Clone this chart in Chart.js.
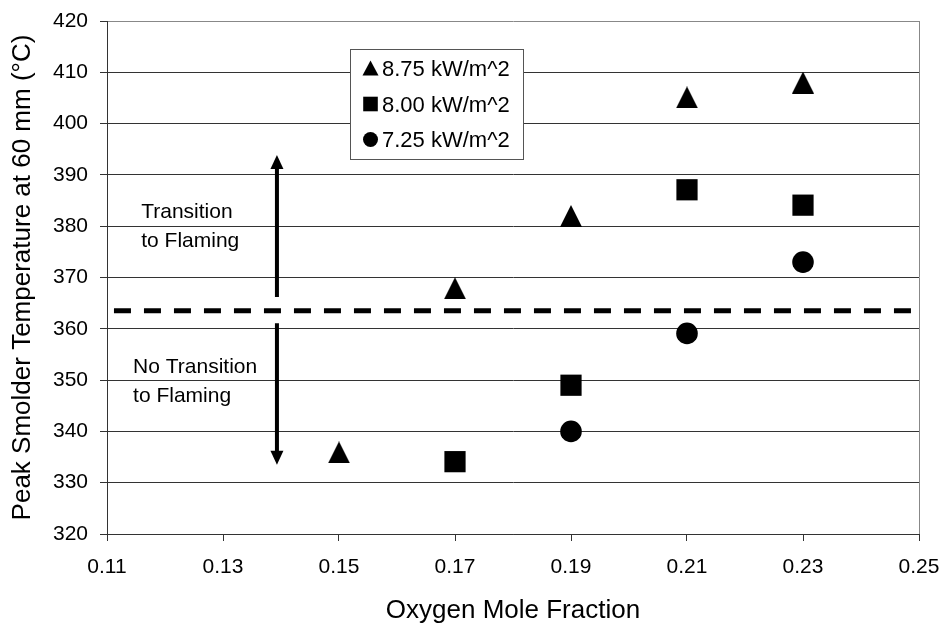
<!DOCTYPE html>
<html>
<head>
<meta charset="utf-8">
<script src="https://cdn.jsdelivr.net/npm/chart.js@4"></script>
<style>
  html, body { margin: 0; padding: 0; background: #fff; }
</style>
</head>
<body>
<canvas id="myChart" width="942" height="626"></canvas>
<script>
// data
const seriesLabels = ['8.75 kW/m^2', '8.00 kW/m^2', '7.25 kW/m^2'];
const oxygen875 = [0.15, 0.17, 0.19, 0.21, 0.23];
const temp875 = [335.9, 367.9, 382.0, 405.1, 408.0];
const oxygen800 = [0.17, 0.19, 0.21, 0.23];
const temp800 = [334.1, 349.0, 387.1, 384.1];
const oxygen725 = [0.19, 0.21, 0.23];
const temp725 = [340.0, 359.1, 373.0];

const xTicks = [0.11, 0.13, 0.15, 0.17, 0.19, 0.21, 0.23, 0.25];
const yTicks = [320, 330, 340, 350, 360, 370, 380, 390, 400, 410, 420];

// threshold line and annotations (data units)
const thresholdTemp = 363.5;
const thresholdRange = [0.1112, 0.2493];
const arrowX = 0.1393;
const arrowUp = [366.2, 393.9];
const arrowDown = [361.1, 333.5];
const notes = [
  { lines: ['Transition', 'to Flaming'], x: 0.1159, y: 381.6 },
  { lines: ['No Transition', 'to Flaming'], x: 0.1145, y: 351.4 }
];

const FONT = "'Liberation Sans', Arial, sans-serif";

function triangleMarker(w, h) {
  const c = document.createElement('canvas');
  c.width = w;
  c.height = h;
  const g = c.getContext('2d');
  g.fillStyle = '#000';
  g.beginPath();
  g.moveTo(w / 2, 0);
  g.lineTo(w, h);
  g.lineTo(0, h);
  g.closePath();
  g.fill();
  return c;
}

const toPoints = (xs, ys) => xs.map((x, i) => ({ x: x, y: ys[i] }));

const overlay = {
  id: 'overlay',
  afterDatasetsDraw(chart) {
    const ctx = chart.ctx;
    const xs = chart.scales.x;
    const ys = chart.scales.y;
    const area = chart.chartArea;
    ctx.save();

    // right border of plot area
    ctx.strokeStyle = '#888';
    ctx.lineWidth = 1;
    ctx.beginPath();
    ctx.moveTo(Math.round(area.right) + 0.5, area.top);
    ctx.lineTo(Math.round(area.right) + 0.5, area.bottom);
    ctx.stroke();

    // arrows
    const ax = xs.getPixelForValue(arrowX);
    function arrow(from, to) {
      const y0 = ys.getPixelForValue(from);
      const y1 = ys.getPixelForValue(to);
      const dir = y1 < y0 ? -1 : 1;
      ctx.strokeStyle = '#000';
      ctx.fillStyle = '#000';
      ctx.lineWidth = 4;
      ctx.beginPath();
      ctx.moveTo(ax, y0);
      ctx.lineTo(ax, y1 - dir * 12);
      ctx.stroke();
      ctx.beginPath();
      ctx.moveTo(ax, y1);
      ctx.lineTo(ax - 6.5, y1 - dir * 14);
      ctx.lineTo(ax + 6.5, y1 - dir * 14);
      ctx.closePath();
      ctx.fill();
    }
    arrow(arrowUp[0], arrowUp[1]);
    arrow(arrowDown[0], arrowDown[1]);

    // notes
    ctx.fillStyle = '#000';
    ctx.font = '21px ' + FONT;
    ctx.textAlign = 'left';
    ctx.textBaseline = 'alphabetic';
    notes.forEach(n => {
      const px = xs.getPixelForValue(n.x);
      const py = ys.getPixelForValue(n.y);
      n.lines.forEach((line, i) => ctx.fillText(line, px, py + i * 29));
    });

    // legend box
    const box = { x: 350.5, y: 49.5, w: 173, h: 110 };
    ctx.fillStyle = '#fff';
    ctx.fillRect(box.x, box.y, box.w, box.h);
    ctx.strokeStyle = '#555';
    ctx.lineWidth = 1;
    ctx.strokeRect(box.x, box.y, box.w, box.h);
    const rows = [68, 104, 139.5];
    ctx.fillStyle = '#000';
    ctx.font = '22px ' + FONT;
    chart.data.datasets.filter(d => d.label).forEach((d, i) => {
      const cy = rows[i];
      const cx = 370.5;
      ctx.beginPath();
      if (d.markerName === 'triangle') {
        ctx.moveTo(cx, cy - 7.5);
        ctx.lineTo(cx + 8, cy + 7.5);
        ctx.lineTo(cx - 8, cy + 7.5);
        ctx.closePath();
      } else if (d.markerName === 'rect') {
        ctx.rect(cx - 7.3, cy - 7.3, 14.6, 14.6);
      } else {
        ctx.arc(cx, cy, 7.5, 0, Math.PI * 2);
      }
      ctx.fill();
      ctx.fillText(d.label, 382, cy + 7.8);
    });

    ctx.restore();
  }
};

new Chart(
  document.getElementById('myChart'),
  {
    type: 'scatter',
    data: {
      datasets: [
        {
          label: seriesLabels[0],
          markerName: 'triangle',
          data: toPoints(oxygen875, temp875),
          pointStyle: triangleMarker(22, 22),
          pointRadius: 11,
          backgroundColor: '#000',
          borderWidth: 0
        },
        {
          label: seriesLabels[1],
          markerName: 'rect',
          data: toPoints(oxygen800, temp800),
          pointStyle: 'rect',
          pointRadius: 15,
          backgroundColor: '#000',
          borderWidth: 0
        },
        {
          label: seriesLabels[2],
          markerName: 'circle',
          data: toPoints(oxygen725, temp725),
          pointStyle: 'circle',
          pointRadius: 10.8,
          backgroundColor: '#000',
          borderWidth: 0
        },
        {
          data: thresholdRange.map(x => ({ x: x, y: thresholdTemp })),
          showLine: true,
          borderColor: '#000',
          borderWidth: 5,
          borderDash: [17, 13],
          pointRadius: 0
        }
      ]
    },
    options: {
      responsive: false,
      animation: false,
      layout: {
        padding: { top: 21, right: 23, left: 0, bottom: 0 }
      },
      plugins: {
        legend: { display: false },
        tooltip: { enabled: false }
      },
      scales: {
        x: {
          type: 'linear',
          min: 0.11,
          max: 0.25,
          afterBuildTicks: s => { s.ticks = xTicks.map(v => ({ value: v })); },
          afterFit: s => { s.height = 92; s.paddingLeft = 0; s.paddingRight = 0; },
          grid: {
            drawOnChartArea: false,
            tickLength: 7,
            tickColor: '#333'
          },
          border: { color: '#333', width: 1 },
          ticks: {
            padding: 14,
            color: '#000',
            font: { family: FONT, size: 21 },
            callback: v => v.toFixed(2)
          },
          title: {
            display: true,
            text: 'Oxygen Mole Fraction',
            color: '#000',
            font: { family: FONT, size: 26 },
            padding: { top: 0, bottom: 0 }
          }
        },
        y: {
          min: 320,
          max: 420,
          afterBuildTicks: s => { s.ticks = yTicks.map(v => ({ value: v })); },
          afterFit: s => { s.width = 107; s.paddingTop = 0; s.paddingBottom = 0; },
          grid: {
            color: c => (c.tick && c.tick.value === 420 ? '#888' : '#333'),
            tickLength: 7,
            tickColor: '#333'
          },
          border: { color: '#333', width: 1 },
          ticks: {
            padding: 12,
            color: '#000',
            font: { family: FONT, size: 21 }
          },
          title: {
            display: true,
            text: 'Peak Smolder Temperature at 60 mm (\u00B0C)',
            color: '#000',
            font: { family: FONT, size: 26 },
            padding: { top: 7, bottom: 0 }
          }
        }
      }
    },
    plugins: [overlay]
  }
);
</script>
</body>
</html>
